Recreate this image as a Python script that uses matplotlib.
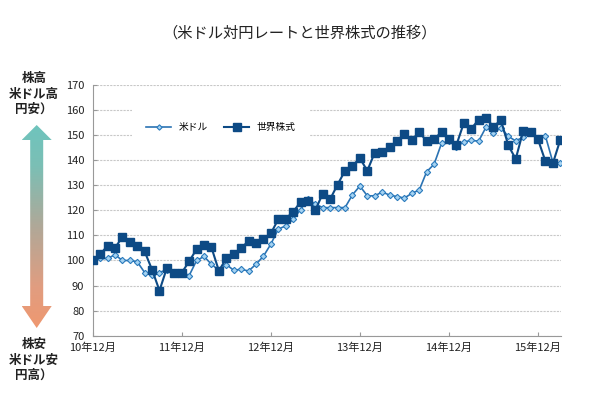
import numpy as np
import matplotlib
matplotlib.use("Agg")
import matplotlib.pyplot as plt
from matplotlib.patches import Polygon
from matplotlib.colors import LinearSegmentedColormap

plt.rcParams['font.family'] = ['Noto Sans CJK JP', 'DejaVu Sans']

# data: monthly index, Dec 2010 = 100
usd = [100, 100.8, 100.8, 102.3, 100.0, 100.0, 99.5, 95.2, 94.1, 95.2,
       96.4, 95.5, 95.5, 94.0, 100.0, 101.6, 98.5, 96.1, 98.4, 96.1,
       96.5, 95.8, 98.5, 101.7, 106.5, 112.5, 113.8, 116.4, 120.3, 124.5,
       122.5, 121.1, 121.1, 121.1, 121.1, 126.2, 129.7, 125.8, 125.8, 127.3,
       126.1, 125.5, 124.9, 126.8, 128.1, 135.4, 138.4, 146.7, 147.7, 145.3,
       147.3, 147.9, 147.6, 153.2, 150.9, 152.9, 149.5, 147.7, 149.2, 151.8,
       148.8, 149.7, 139.2, 138.7]
stock = [100, 102.4, 105.9, 105.0, 109.4, 107.3, 105.7, 103.6, 96.3, 88.0,
         97.1, 95.1, 95.1, 99.7, 104.5, 106.1, 105.2, 95.9, 100.8, 102.4,
         104.9, 107.8, 107.0, 108.6, 110.8, 116.4, 116.6, 119.4, 123.3, 123.7,
         120.1, 126.7, 124.5, 130.3, 135.8, 137.8, 140.8, 135.8, 143.0, 143.2,
         145.2, 147.8, 150.4, 148.0, 151.2, 147.6, 148.3, 151.3, 148.6, 146.0,
         154.8, 152.5, 156.2, 156.8, 153.4, 156.0, 145.9, 140.5, 151.6, 151.2,
         148.3, 139.6, 138.7, 148.1]
months = np.arange(len(usd))
tick_pos = [0, 12, 24, 36, 48, 60]
tick_labels = ["10年12月", "11年12月", "12年12月", "13年12月", "14年12月", "15年12月"]

fig = plt.figure(figsize=(6, 4), dpi=100)

# overlay in pixel coords for title, side texts and gradient arrow
ov = fig.add_axes([0, 0, 1, 1])
ov.axis('off')
cx, hw, sw = 36.7, 15, 6.5
top_tip, top_base, bot_base, bot_tip = 125, 140, 306, 328
verts = [(cx, top_tip), (cx + hw, top_base), (cx + sw, top_base), (cx + sw, bot_base),
         (cx + hw, bot_base), (cx, bot_tip), (cx - hw, bot_base), (cx - sw, bot_base),
         (cx - sw, top_base), (cx - hw, top_base)]
poly = Polygon(verts, closed=True, facecolor='none', edgecolor='none')
ov.add_patch(poly)
cmap = LinearSegmentedColormap.from_list('arr', [(0, '#6fc4bd'), (0.2, '#7bbfb5'),
                                                 (0.5, '#b0a898'), (0.8, '#e19d80'),
                                                 (1, '#ef9870')])
grad = np.linspace(0, 1, 256).reshape(-1, 1)
im = ov.imshow(grad, cmap=cmap, extent=(cx - hw, cx + hw, bot_tip, top_tip),
               aspect='auto', origin='upper')
im.set_clip_path(poly)
ov.set_xlim(0, 600)
ov.set_ylim(400, 0)

ov.text(300, 33, "（米ドル対円レートと世界株式の推移）", ha='center', va='center',
        fontsize=11, color='#222222')
ov.text(34, 94, "株高\n米ドル高\n円安）", ha='center', va='center', fontsize=9,
        fontweight='bold', color='#222222', linespacing=1.25)
ov.text(34, 360, "株安\n米ドル安\n円高）", ha='center', va='center', fontsize=9,
        fontweight='bold', color='#222222', linespacing=1.25)

# main chart
ax = fig.add_axes([92.7 / 600, 1 - 335.7 / 400, (561 - 92.7) / 600, (335.7 - 85) / 400])
ax.set_facecolor('none')
ax.plot(months, usd, color='#2b73b3', lw=1.2, marker='D', markersize=3.2,
        markerfacecolor='#a6d3f2', markeredgecolor='#2b7bbd', markeredgewidth=0.8,
        label='米ドル', zorder=3)
ax.plot(months, stock, color='#0d4a85', lw=1.5, marker='s', markersize=6,
        label='世界株式', zorder=4)

ax.set_xlim(0, 63.1)
ax.set_ylim(70, 170)
ax.set_yticks(range(70, 171, 10))
ax.set_xticks(tick_pos)
ax.set_xticklabels(tick_labels)
ax.tick_params(axis='both', direction='in', length=3, color='#999999',
               labelsize=8, labelcolor='#222222')
ax.tick_params(axis='y', pad=6)
ax.tick_params(axis='x', pad=5)
ax.grid(axis='y', color='#c8c8c8', linestyle=(0, (2, 1)), lw=0.8)
for s in ['top', 'right']:
    ax.spines[s].set_visible(False)
for s in ['left', 'bottom']:
    ax.spines[s].set_color('#999999')

leg = ax.legend(loc='center', bbox_to_anchor=(221 / 600, 1 - 127 / 400),
                bbox_transform=fig.transFigure, ncol=2, fontsize=7,
                handlelength=2.6, columnspacing=1.6, borderpad=1.4,
                markerscale=0.85, frameon=True, fancybox=False)
leg.get_frame().set_facecolor('white')
leg.get_frame().set_edgecolor('none')
leg.get_frame().set_alpha(1)

fig.savefig('out.png', dpi=100)
